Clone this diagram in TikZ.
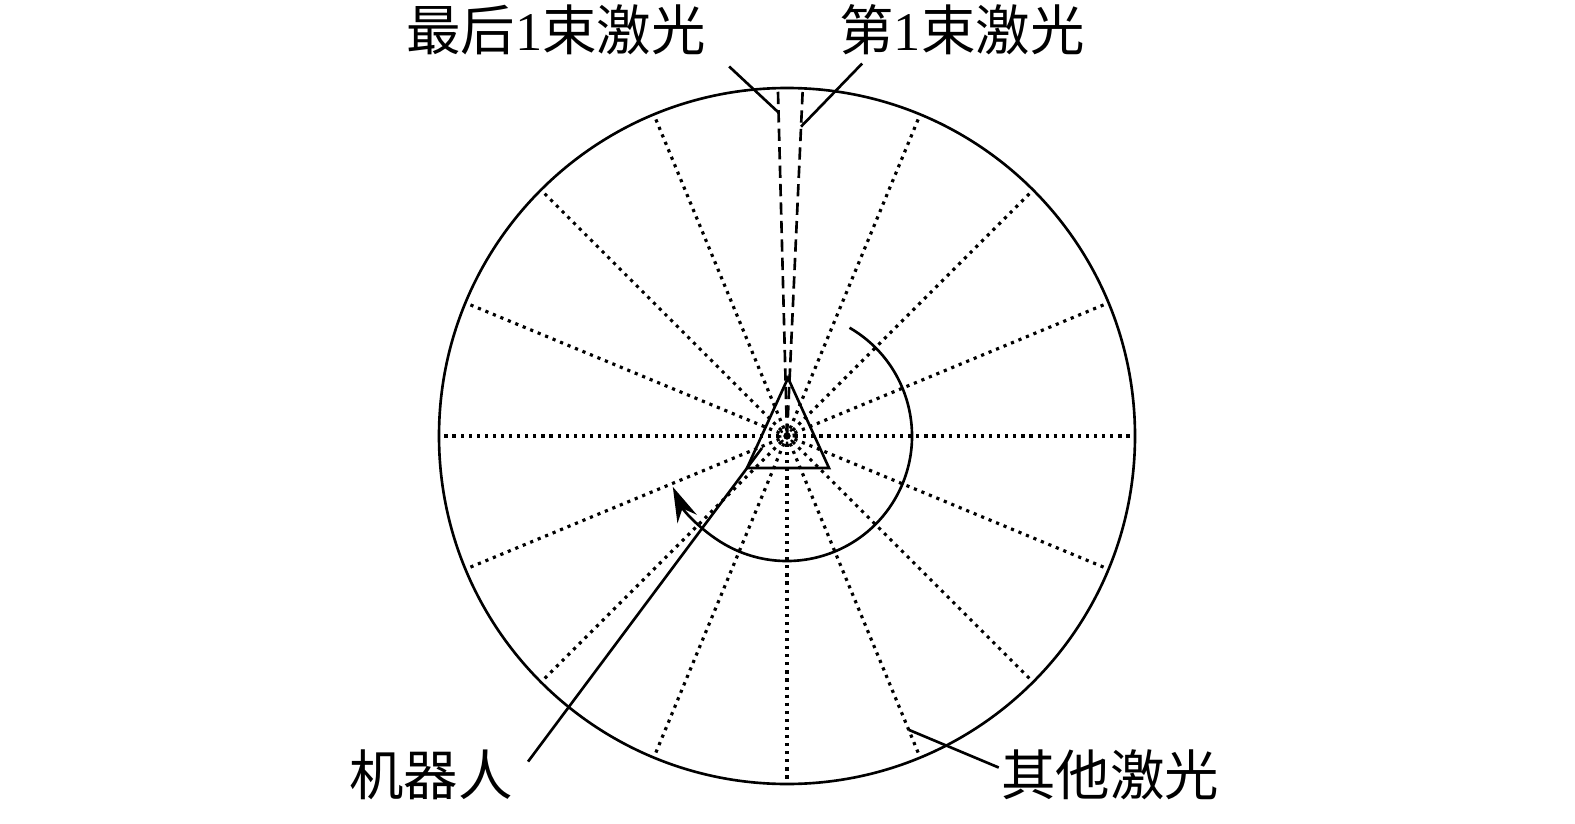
\documentclass[tikz,border=0pt]{standalone}
\usepackage{fontspec}
\setmainfont{Liberation Serif}
\newfontfamily\cjk{Noto Sans CJK SC}
\usetikzlibrary{arrows.meta,calc}

\begin{document}
\begin{tikzpicture}[x=0.02cm,y=0.02cm,
  beam/.style={line width=1.8pt,dash pattern=on 1.8pt off 2.8pt},
  scanbeam/.style={line width=1.5pt,dash pattern=on 7pt off 3.5pt},
  pointer/.style={line width=1.5pt},
  lbl/.style={inner sep=0pt,font=\fontsize{31}{31}\selectfont}]
  \useasboundingbox (0,0) rectangle (1575,823);
  \coordinate (O) at (787,387);

  \draw[line width=1.5pt] (O) circle (348);
  \foreach \a in {0,22.5,45,67.5,112.5,135,157.5,180,202.5,225,247.5,270,292.5,315,337.5}
    \draw[beam] (O) -- ++(\a:348);
  \draw[line width=1.4pt,dash pattern=on 1.4pt off 1.6pt] (O) circle (7);
  \fill (O) circle (3.5);

  \draw[scanbeam] (O) -- ++(87.4:348) coordinate (first);
  \draw[scanbeam] (O) -- ++(91.5:348) coordinate (last);

  \draw[pointer] ($(O)+(1,58)$) -- ($(O)+(-40,-32)$) -- ($(O)+(42,-32)$) -- cycle;
  \draw[pointer,-{Stealth[length=20pt,width=12pt]}] ($(O)+(60:125)$)
    arc[start angle=60,end angle=-156,radius=125];

  \node[lbl] (last label) at (556,793) {{\cjk 最后}1{\cjk 束激光}};
  \node[lbl] (first label) at (962,793) {{\cjk 第}1{\cjk 束激光}};
  \node[lbl] (robot) at (431,48) {\cjk 机器人};
  \node[lbl] (others) at (1110,48) {\cjk 其他激光};

  \coordinate (last tip) at ($(O)!0.93!(last)$);
  \coordinate (first tip) at ($(O)!0.89!(first)$);
  \coordinate (robot tip) at ($(O)+(-25,-12)$);
  \coordinate (others tip) at ($(O)+(-67.5:318)$);

  \draw[pointer] ([shift={(23,-11)}]last label.south east) -- (last tip);
  \draw[pointer] ([shift={(23,-8)}]first label.south west) -- (first tip);
  \draw[pointer] ([shift={(15,-12)}]robot.north east) -- (robot tip);
  \draw[pointer] ([shift={(-2,-18)}]others.north west) -- (others tip);
\end{tikzpicture}
\end{document}
